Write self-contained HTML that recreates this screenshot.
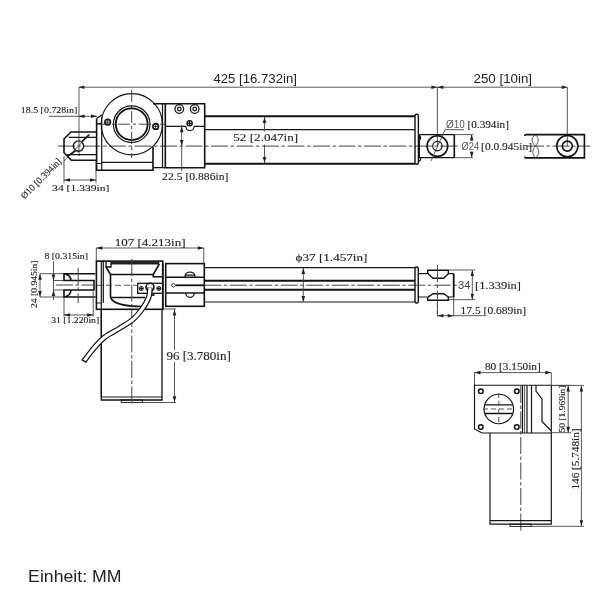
<!DOCTYPE html>
<html><head><meta charset="utf-8">
<style>
html,body{margin:0;padding:0;background:#fff;width:600px;height:600px;overflow:hidden}
svg{display:block;filter:grayscale(1) blur(0.35px)}
text{font-family:"Liberation Serif",serif;fill:#222;font-size:11px;stroke:#222;stroke-width:0.12}
.sn{font-family:"Liberation Sans",sans-serif;stroke:none}
.k{fill:none;stroke:#111;stroke-width:1.6}
.m{fill:none;stroke:#151515;stroke-width:1.2}
.t{fill:none;stroke:#444;stroke-width:0.9}
.c{fill:none;stroke:#444;stroke-width:1;stroke-dasharray:17 2.5 3.5 2.5}
.d{fill:none;stroke:#444;stroke-width:0.9;stroke-dasharray:5 3}
</style></head><body>
<svg width="600" height="600" viewBox="0 0 600 600">

<!-- ============ TOP VIEW ============ -->
<!-- dimension 425 / 250 -->
<path class="t" d="M79,87.2 H567"/>
<path d="M78.8,87.2 l5.5,-1.7 v3.4z M567.3,87.2 l-5.5,-1.7 v3.4z" fill="#222"/>
<path class="t" d="M79,87 V156 M437.4,87 V146 M567.3,87 V146"/>
<path d="M437.4,87.2 l-6,-1.8 v3.6z M437.4,87.2 l6,-1.8 v3.6z" fill="#222"/>

<!-- 18.5 -->
<path class="t" d="M49,116.3 H97"/>
<path d="M78.5,116.3 l6,-1.8 v3.6z M97,116.3 l-6,-1.8 v3.6z" fill="#222"/>

<!-- centerline top -->
<path class="c" d="M58,146.1 H460.5 M527,146.1 H590"/>

<!-- left clevis -->
<path class="k" d="M96,132 H70.9 L64,139 V152.7 L71.3,160.2 H96"/>
<path class="m" d="M96,137.3 H68.6 M96,154.7 H67.2" style="stroke-width:1.3"/>
<circle class="m" cx="78.5" cy="146.1" r="5.2" style="stroke-width:1.4"/>
<path class="t" d="M90,134 L63.5,161.5"/>
<path d="M67.4,156.4 L75.5,150.8 M82,141.5 L89,134.8" stroke="#111" stroke-width="1.6"/>

<!-- 34 top -->
<path class="t" d="M64,156 V183 M96,161 V183 M64,180 H96"/>
<path d="M64,180 l6,-1.8 v3.6z M96,180 l-6,-1.8 v3.6z" fill="#222"/>

<!-- plate -->
<path class="k" d="M96.6,118.5 V170.2 H153 V147"/>
<path class="m" d="M101.7,117 V170.2 M96.6,118.5 L102,114.7 M101.7,162.4 H153 M96.6,163.5 H101.7 M96.6,123.7 H101.7"/>
<!-- big circle -->
<circle class="m" cx="131.8" cy="124.3" r="30.6"/>
<circle class="m" cx="131.7" cy="124.2" r="18.3" style="stroke-width:1.2"/>
<circle class="k" cx="131.7" cy="124.2" r="15.9" style="stroke-width:1.8"/>
<path class="c" d="M131.7,90 V158 M97,124.2 H165" style="stroke-dasharray:12 3 3 3"/>
<!-- screws -->
<g class="m" style="stroke-width:1.6">
<circle cx="107.7" cy="122.2" r="2.8"/><circle cx="155.7" cy="126.4" r="2.8"/></g>
<path class="m" d="M104.9,122.2 h5.6 M107.7,119.4 v5.6 M152.9,126.4 h5.6 M155.7,123.6 v5.6" style="stroke-width:0.8"/>
<!-- block 1 & 2 -->
<path class="k" d="M153,103.7 H204.7 V167.7 H165.3 V103.7"/>
<path class="m" d="M162.5,103.7 V167.7 M153,167.7 H165.3"/>
<g class="m" style="stroke-width:1.3">
<circle cx="179.3" cy="109" r="4.3"/><circle cx="179.3" cy="109" r="1.8"/>
<circle cx="194.7" cy="109" r="4.3"/><circle cx="194.7" cy="109" r="1.8"/>
<circle cx="189.6" cy="123.3" r="2.6"/><path d="M187,123.3 h5.2 M189.6,120.7 v5.2"/>
</g>
<path class="m" d="M165.3,126.3 H185.8 A4.2,4.2 0 0 0 194.2,126.3 H204.7"/>
<!-- 22.5 -->
<path class="t" d="M181.7,125 V171"/>
<path d="M181.7,126.3 l-1.8,6 h3.6z M181.7,146.1 l-1.8,-6 h3.6z" fill="#222"/>

<!-- tube -->
<path class="k" d="M204.7,116.3 H415 M204.7,163.7 H415" style="stroke-width:1.9"/>
<path class="m" d="M204.7,129.6 H415"/>
<rect class="k" x="415" y="114.3" width="3.4" height="50" rx="1.5" style="stroke-width:1.4"/>
<path class="m" d="M418.4,135.5 a2,2 0 0 1 0,4.4 M418.4,157 a2,2 0 0 1 0,4.4"/>
<!-- 52 -->
<path class="t" d="M264.5,117 V131.5 M264.5,144.5 V163"/>
<path d="M264.5,117 l-1.8,6 h3.6z M264.5,163 l-1.8,-6 h3.6z" fill="#222"/>

<!-- rod end -->
<path class="m" d="M419.4,134.6 H454.3 M419.4,157.7 H454.3 M419.4,134.6 V157.7"/>
<path class="k" d="M454.3,134.6 V157.7"/>
<circle class="k" cx="437.4" cy="146.1" r="10.3"/>
<circle class="m" cx="437.4" cy="146.1" r="4.7"/>
<path class="t" d="M431,161 L445,129.7 H463.7 M454.3,134.6 H473 M454.3,157.7 H473 M471.7,135 V141 M471.7,151.5 V157.4"/>
<path d="M471.7,134.6 l-1.8,6 h3.6z M471.7,157.7 l-1.8,-6 h3.6z" fill="#222"/>

<!-- right rod end -->
<path class="k" d="M524.7,136 Q524.7,134.6 526,134.6 H584.4 V157.9 H526 Q524.7,157.9 524.7,156.5"/>
<path class="t" d="M535.5,134.6 C531,138 531,142 535.5,146 C540,150 540,154 535.5,157.9 M535.5,134.6 C539,138 539,142 535.5,146 C532,150 532,154 535.5,157.9" style="stroke:#333;stroke-width:0.8"/>
<circle class="k" cx="567.3" cy="146.1" r="10.6"/>
<circle class="k" cx="567.3" cy="146.1" r="5"/>

<!-- ============ MIDDLE VIEW ============ -->
<!-- 107 -->
<path class="t" d="M96.3,248 H203.8 M96.3,248 V261 M203.8,248 V263.6"/>
<path d="M96.3,248 l6,-1.8 v3.6z M203.8,248 l-6,-1.8 v3.6z" fill="#222"/>

<!-- 8 & 24 dims -->
<path class="t" d="M53.5,261 V300 M53.5,280.5 H64 M53.5,290 H64 M40,273.7 V297 M40,273.7 H64 M40,297 H64"/>
<path d="M53.5,280.5 l-1.8,-6 h3.6z M53.5,290 l-1.8,6 h3.6z M40,273.7 l-1.8,6 h3.6z M40,297 l-1.8,-6 h3.6z" fill="#222"/>

<!-- left clevis mid -->
<path class="k" d="M95.5,273.7 H64 V280.5 H94 V290 H64 V297 H95.5 M64,273.7 Q70.5,274.5 71,280.5 M64,297 Q70.5,296 71,290"/>
<path class="c" d="M56,285 H95"/>
<path class="c" d="M78.2,267.7 V303"/>
<path class="t" d="M64,297 V316.5 M93.2,290 V316.5 M64,315 H93.2"/>
<path d="M64,315 l6,-1.8 v3.6z M93.2,315 l-6,-1.8 v3.6z" fill="#222"/>

<!-- gearbox -->
<rect class="k" x="96.4" y="261.1" width="66.3" height="48.2"/>
<path class="m" d="M101.3,260.7 V397 M103.3,260.7 V303 M96.4,303 H101.3"/>
<path d="M111,261.5 H159.3 V264.4 H111z" fill="#222"/>
<path class="k" d="M106,267 L110.5,274.5 V297 C112,303 124,306.5 143,306.5 M110,297.5 H145 M110,274.5 H153.3 L159.3,264 M153.3,274.7 V276.7 H162.7"/>
<path class="k" d="M106,261 V267 H111 V262" style="stroke-width:1.3"/>
<path class="d" d="M97,285.3 H137.5" style="stroke-dasharray:6 3"/>
<path d="M148.5,293 q3,3 6,0 v3 h-6z" fill="#222"/>
<!-- connector -->
<rect class="m" x="137.7" y="283.3" width="25" height="10" style="stroke-width:1.3"/>
<g class="m" style="stroke-width:1">
<circle cx="141.3" cy="288.5" r="2"/><path d="M139.3,288.5 h4 M141.3,286.5 v4"/>
<circle cx="158.8" cy="288.5" r="2"/><path d="M156.8,288.5 h4 M158.8,286.5 v4"/>
</g>
<circle class="k" cx="150" cy="287.3" r="4"/>
<!-- motor -->
<path class="k" d="M101.3,309.3 V400 H162 V309.3" style="stroke-width:1.3"/>
<path class="m" d="M101.3,397 H162"/>
<rect class="m" x="121.3" y="400" width="21.2" height="2.5" style="stroke-width:0.9"/>
<path class="c" d="M131.8,259 V406"/>
<!-- cable -->
<path d="M150,287.5 C149.8,289.1 150.1,293.5 148.8,297 C147.6,300.5 145.1,304.8 142.5,308.5 C139.9,312.2 137.2,315.8 133.5,319 C129.8,322.2 124.8,325.0 120,328 C115.2,331.0 109.2,333.8 105,337 C100.8,340.2 98.0,343.5 94.5,347.5 C91.0,351.5 85.8,358.8 84,361" fill="none" stroke="#111" stroke-width="5.6" stroke-linecap="butt"/>
<path d="M150,287.5 C149.8,289.1 150.1,293.5 148.8,297 C147.6,300.5 145.1,304.8 142.5,308.5 C139.9,312.2 137.2,315.8 133.5,319 C129.8,322.2 124.8,325.0 120,328 C115.2,331.0 109.2,333.8 105,337 C100.8,340.2 98.0,343.5 94.5,347.5 C91.0,351.5 85.8,358.8 84,361" fill="none" stroke="#fff" stroke-width="3.2"/>
<path d="M81.6,359.6 L86.4,362.4" class="m" style="stroke-width:1.3"/>

<!-- 96 dim -->
<path class="t" d="M163,309 H176 M142.5,402.5 H176 M174.5,309.5 V350 M174.5,362 V402.2"/>
<path d="M174.5,309.5 l-1.8,6 h3.6z M174.5,402.3 l-1.8,-6 h3.6z" fill="#222"/>

<!-- block 2 mid -->
<path class="m" d="M163,263.6 V309.3"/>
<rect class="k" x="165.7" y="263.6" width="38.6" height="42.7"/>
<path class="m" d="M165.7,277.3 H204.3 M165.7,293 H204.3" style="stroke-width:1.4"/>
<path class="m" d="M185.2,277.3 V275 Q186,272.2 190,272 Q194,272.2 194.8,275 V277.3 M185.2,275.2 H194.8 M185.7,293 A4.3,4.3 0 0 0 194.3,293" style="stroke-width:1.2"/>
<path d="M171,285.3 l2.5,-2 2.5,2 -2.5,2z" fill="none" stroke="#222" stroke-width="0.9"/>
<path class="k" d="M176,285.3 H204.3" style="stroke-width:1.8"/>

<!-- tube mid -->
<path class="m" d="M204.3,267.6 H415 M204.3,302 H415"/>
<path class="k" d="M204.3,280.7 H415 M204.3,289.7 H415" style="stroke-width:2"/>
<path class="c" d="M204.3,285.2 H460"/>
<rect class="k" x="415" y="267" width="3.3" height="36" rx="1.5" style="stroke-width:1.4"/>
<!-- 37 dim -->
<path class="t" d="M303.3,268 V302"/>
<path d="M303.3,268 l-1.8,6 h3.6z M303.3,302 l-1.8,-6 h3.6z" fill="#222"/>

<!-- right clevis mid -->
<path class="m" d="M418.3,273.7 H427 M418.3,297 H427 M448.3,273.7 H453.7 M448.3,297 H453.7"/>
<path class="k" d="M427.7,270.3 H448.3 V273.7 L443.7,278.3 H433 L427.7,273.3z M427.7,300.3 H448.3 V297 L443.7,293.7 H433 L427.7,297.3z" style="stroke-width:1.4"/>
<path class="k" d="M453.7,273.7 V297" style="stroke-width:1.8"/>
<path class="c" d="M437.4,265 V316.3"/>
<!-- 34 / 17.5 -->
<path class="t" d="M449,270 H475 M449,299.7 H475 M472.3,270.5 V299.2 M453.7,297 V316.5 M437.4,316.3 V303 M437.4,315.7 H484"/>
<path d="M472.3,270 l-1.8,6 h3.6z M472.3,299.7 l-1.8,-6 h3.6z M437.4,315.7 l6,-1.8 v3.6z M453.7,315.7 l-6,-1.8 v3.6z" fill="#222"/>

<!-- ============ RIGHT VIEW ============ -->
<path class="t" d="M474.5,372.6 H551.3 M474.5,372.6 V385.4 M551.3,372.6 V385.4"/>
<path d="M474.5,372.6 l6,-1.8 v3.6z M551.3,372.6 l-6,-1.8 v3.6z" fill="#222"/>

<path class="k" d="M474.5,385.2 H551.3 V433 H482 L474.5,429 z" style="stroke-width:1.15"/>
<path class="m" d="M522.5,385.2 V433 M527,385.2 V433 M531.5,385.2 V433" style="stroke-width:1.2"/><path class="t" d="M524.6,385.2 V433"/>
<path class="m" d="M536,385.2 V391 L542,399 V421.5 L550.8,430.5" style="stroke-width:1.2"/>
<g class="k" style="stroke-width:1.5">
<circle cx="480.8" cy="391.2" r="2.3"/><circle cx="516.8" cy="391.2" r="2.3"/>
<circle cx="480.8" cy="427" r="2.3"/><circle cx="516.8" cy="427" r="2.3"/>
</g>
<circle class="m" cx="498.8" cy="409" r="14.75" style="stroke-width:1.2"/>
<path class="k" d="M484.8,404.8 H512.8 M484.8,413.5 H512.8" style="stroke-width:1.3"/>
<path class="d" d="M483,409 H512 M498.8,393 V425"/>
<path class="c" d="M520.8,386 V531"/>
<!-- motor right -->
<path class="k" d="M490,433 V524.1 H551.3 V433" style="stroke-width:1.15"/>
<path class="m" d="M489.8,520.7 H551.3"/>
<rect class="m" x="510" y="524.1" width="21" height="2.3" style="stroke-width:0.9"/>
<!-- 50 dim -->
<path class="t" d="M551.3,385.4 H571 M551.3,432.7 H571 M568.2,386 V432"/>
<path d="M568.2,385.4 l-1.8,6 h3.6z M568.2,432.7 l-1.8,-6 h3.6z" fill="#222"/>
<!-- 146 dim -->
<path class="t" d="M551.3,385.4 H584 M531,526.3 H584 M581.4,386 V526"/>
<path d="M581.4,385.4 l-1.8,6 h3.6z M581.4,526.3 l-1.8,-6 h3.6z" fill="#222"/>

<!-- unit -->
<!--TEXTS-->
<text class="sn" x="213.40" y="82.80" style="font-size:13px;fill:#222" textLength="83.50" lengthAdjust="spacingAndGlyphs">425 [16.732in]</text>
<text class="sn" x="473.55" y="82.80" style="font-size:13px;fill:#222" textLength="58.50" lengthAdjust="spacingAndGlyphs">250 [10in]</text>
<text x="20.70" y="112.70" style="font-size:8.5px" textLength="56.70" lengthAdjust="spacingAndGlyphs">18.5 [0.728in]</text>
<text transform="translate(24.50,199.50) rotate(-45)" style="font-size:9.5px" textLength="53.00" lengthAdjust="spacingAndGlyphs">&#216;10 [0.394in]</text>
<text x="52.10" y="190.70" style="font-size:9.2px" textLength="57.30" lengthAdjust="spacingAndGlyphs">34 [1.339in]</text>
<text x="162.10" y="179.70" style="font-size:10.5px" textLength="66.30" lengthAdjust="spacingAndGlyphs">22.5 [0.886in]</text>
<text x="233.30" y="141.40" style="font-size:11.3px" textLength="64.90" lengthAdjust="spacingAndGlyphs">52 [2.047in]</text>
<text class="sn" x="446.10" y="128.00" style="font-size:10.5px;fill:#555" textLength="18.60" lengthAdjust="spacingAndGlyphs">&#216;10</text>
<text x="467.50" y="128.00" style="font-size:10.5px" textLength="41.40" lengthAdjust="spacingAndGlyphs">[0.394in]</text>
<text class="sn" x="461.60" y="150.00" style="font-size:10.5px;fill:#555" textLength="17.50" lengthAdjust="spacingAndGlyphs">&#216;24</text>
<text x="481.10" y="150.00" style="font-size:10.5px" textLength="51.00" lengthAdjust="spacingAndGlyphs">[0.0.945in]</text>
<text x="114.70" y="246.00" style="font-size:10.8px" textLength="70.80" lengthAdjust="spacingAndGlyphs">107 [4.213in]</text>
<text x="44.50" y="259.00" style="font-size:7.6px" textLength="43.50" lengthAdjust="spacingAndGlyphs">8 [0.315in]</text>
<text transform="translate(37.20,308.00) rotate(-90)" style="font-size:8.2px" textLength="47.50" lengthAdjust="spacingAndGlyphs">24 [0.945in]</text>
<text x="51.20" y="322.50" style="font-size:8.3px" textLength="48.00" lengthAdjust="spacingAndGlyphs">31 [1.220in]</text>
<text x="166.40" y="360.00" style="font-size:11.8px" textLength="64.40" lengthAdjust="spacingAndGlyphs">96 [3.780in]</text>
<text x="295.50" y="260.70" style="font-size:11px" textLength="72.00" lengthAdjust="spacingAndGlyphs">&#981;37 [1.457in]</text>
<text class="sn" x="457.90" y="289.30" style="font-size:10px;fill:#444" textLength="12.50" lengthAdjust="spacingAndGlyphs">34</text>
<text x="475.00" y="289.30" style="font-size:11px" textLength="46.00" lengthAdjust="spacingAndGlyphs">[1.339in]</text>
<text x="460.60" y="313.60" style="font-size:11.2px" textLength="65.50" lengthAdjust="spacingAndGlyphs">17.5 [0.689in]</text>
<text x="484.90" y="369.90" style="font-size:9.5px" textLength="55.90" lengthAdjust="spacingAndGlyphs">80 [3.150in]</text>
<text transform="translate(564.50,432.50) rotate(-90)" style="font-size:8.2px" textLength="47.00" lengthAdjust="spacingAndGlyphs">50 [1.969in]</text>
<text transform="translate(579.00,489.50) rotate(-90)" style="font-size:10px" textLength="61.00" lengthAdjust="spacingAndGlyphs">146 [5.748in]</text>
<text class="sn" x="28.10" y="582.00" style="font-size:16.5px;fill:#222" textLength="93.40" lengthAdjust="spacingAndGlyphs">Einheit: MM</text>
<!--/TEXTS-->
</svg>
</body></html>
